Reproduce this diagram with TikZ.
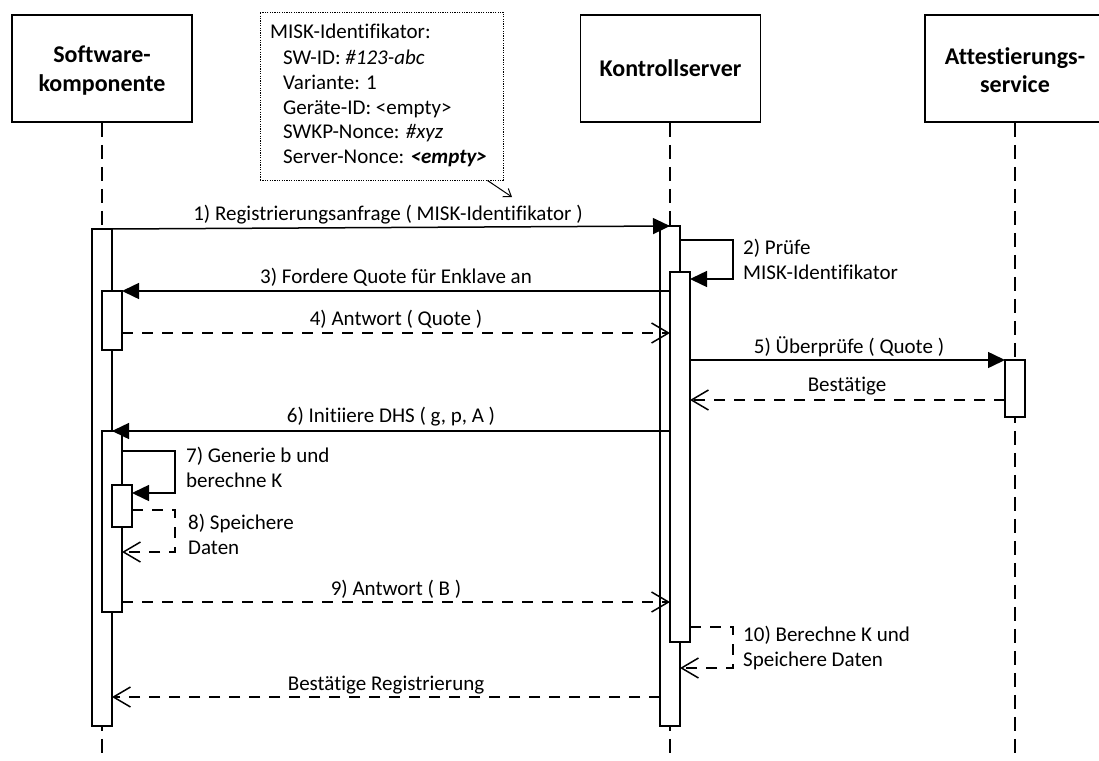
\documentclass[tikz,border=0pt]{standalone}
\usepackage{fontspec}
\setmainfont{Carlito}[Ligatures=NoCommon]
\usetikzlibrary{arrows.meta,calc}

\begin{document}
\begin{tikzpicture}[x=1pt,y=-1pt,
  font=\fontsize{21}{25}\selectfont,
  actor/.style={draw, line width=1.5pt, fill=white, minimum width=180pt,
    minimum height=107pt, inner sep=0pt},
  actortext/.style={anchor=base, inner sep=0pt, font=\fontsize{24}{28}\selectfont\bfseries},
  lifeline/.style={line width=1.5pt, dash pattern=on 14pt off 8pt},
  actbar/.style={draw, fill=white, line width=1.5pt, minimum width=20pt,
    inner sep=0pt, outer sep=0pt, anchor=north},
  sync/.style={line width=1.5pt, -{Triangle[length=17pt,width=16pt]}},
  reply/.style={line width=1.5pt, dash pattern=on 11pt off 9pt,
    -{Straight Barb[length=17pt,width=20pt,line width=1.5pt]}},
  msglabel/.style={anchor=base, inner sep=0pt},
  sidelabel/.style={anchor=west, align=left, inner sep=0pt},
  notebox/.style={draw, line width=0.9pt, dash pattern=on 1.2pt off 1.2pt,
    minimum width=243pt, minimum height=168pt, inner sep=0pt},
  noteline/.style={anchor=base west, inner sep=0pt},
]
\useasboundingbox (0,0) rectangle (1099,760);
\clip (0,0) rectangle (1099,760);

% participants
\node[actor] (sw) at (102,68.5) {};
\node[actor] (ks) at (670.5,68.5) {};
\node[actor] (as) at (1015,68.5) {};
\node[actortext] (sw1) at (102,63) {Software-};
\node[actortext] (sw2) at (102,91) {komponente};
\node[actortext] (ks1) at (670.5,76) {Kontrollserver};
\node[actortext] (as1) at (1015,64) {Attestierungs-};
\node[actortext] (as2) at (1015,92) {service};

% lifelines
\coordinate (swend) at (102,760);
\coordinate (ksend) at (670,760);
\coordinate (asend) at (1015,760);
\draw[lifeline] (sw.south -| swend) -- (swend);
\draw[lifeline] (ks.south -| ksend) -- (ksend);
\draw[lifeline] (as.south -| asend) -- (asend);

% activation bars
\node[actbar, minimum height=497pt] (swbar)  at (102,229) {};
\node[actbar, minimum height=59pt]  (swbarA) at (112,291) {};
\node[actbar, minimum height=181pt] (swbarB) at (112,431) {};
\node[actbar, minimum height=42pt]  (swbarC) at (122,485) {};
\node[actbar, minimum height=500pt] (ksbar)  at (670,226) {};
\node[actbar, minimum height=370pt] (ksbarA) at (680,272) {};
\node[actbar, minimum height=57pt]  (asbar)  at (1015,360) {};

% note
\node[notebox] (note) at (381.5,96) {};
\node[noteline] (n1) at (270,39)  {MISK-Identifikator:};
\node[noteline] (n2) at (283,64)  {SW-ID: \textit{\#123-abc}};
\node[noteline] (n3) at (283,89)  {Variante: 1};
\node[noteline] (n4) at (283,114) {Geräte-ID: <empty>};
\node[noteline] (n5) at (283,138) {SWKP-Nonce: \textit{\#xyz}};
\node[noteline] (n6) at (283,163) {Server-Nonce: \textbf{\textit{<empty>}}};
\coordinate (notetip) at (512,197);
\draw[line width=1pt, -{Straight Barb[length=7pt,width=10pt,line width=1pt]}]
  ($(note.south east)+(-16,0)$) -- (notetip);

% message end points
\coordinate (m1s) at (112,229);
\coordinate (m3s) at (670,291);
\coordinate (m4s) at (122,333);
\coordinate (m4e) at (670,333);
\coordinate (m5s) at (690,360);
\coordinate (m5e) at (1005,360);
\coordinate (mbs) at (1005,400);
\coordinate (mbe) at (690,400);
\coordinate (m6s) at (670,431);
\coordinate (m6e) at (112,431);
\coordinate (m9s) at (122,602);
\coordinate (m9e) at (670,602);
\coordinate (mrs) at (660,697);
\coordinate (mre) at (112,697);
\coordinate (m2s) at (680,240);
\coordinate (m2e) at (690,279);
\coordinate (m7s) at (122,451);
\coordinate (m7e) at (132,493);
\coordinate (m8s) at (132,510);
\coordinate (m8e) at (122,552);
\coordinate (m10s) at (690,627);
\coordinate (m10e) at (680,668);

% messages
\draw[sync]  (m1s) -- (ksbar.north);
\draw[sync]  (m3s) -- (swbarA.north east);
\draw[reply] (m4s) -- (m4e);
\draw[sync]  (m5s) -- (m5e);
\draw[reply] (mbs) -- (mbe);
\draw[sync]  (m6s) -- (m6e);
\draw[reply] (m9s) -- (m9e);
\draw[reply] (mrs) -- (mre);

% self messages
\draw[sync]  (m2s) -- (733,240) |- (m2e);
\draw[sync]  (m7s) -- (175,451) |- (m7e);
\draw[reply] (m8s) -- (175,510) |- (m8e);
\draw[reply] (m10s) -- (733,627) |- (m10e);

% message labels
\node[msglabel] (l1) at (388,220) {1) Registrierungsanfrage ( MISK-Identifikator )};
\node[msglabel] (l3) at (396,283) {3) Fordere Quote für Enklave an};
\node[msglabel] (l4) at (396,325) {4) Antwort ( Quote )};
\node[msglabel] (l5) at (849,353) {5) Überprüfe ( Quote )};
\node[msglabel] (lb) at (847,391) {Bestätige};
\node[msglabel] (l6) at (391,422) {6) Initiiere DHS ( g, p, A )};
\node[msglabel] (l9) at (396,595) {9) Antwort ( B )};
\node[msglabel] (lr) at (386,690) {Bestätige Registrierung};

\node[sidelabel] (l2)  at (743,259) {2) Prüfe\\MISK-Identifikator};
\node[sidelabel] (l7)  at (186,467) {7) Generie b und\\berechne K};
\node[sidelabel] (l8)  at (188,534) {8) Speichere\\Daten};
\node[sidelabel] (l10) at (743,648) {10) Berechne K und\\Speichere Daten};
\end{tikzpicture}
\end{document}
